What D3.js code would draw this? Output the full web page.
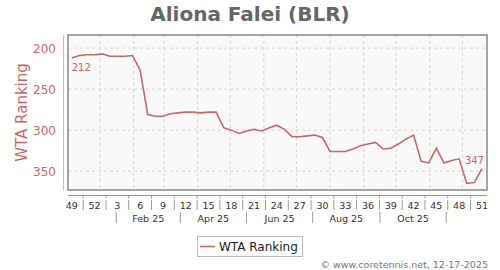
<!DOCTYPE html>
<html><head><meta charset="utf-8">
<script src="https://cdn.jsdelivr.net/npm/d3@7/dist/d3.min.js"></script>
<style>body{margin:0;background:#fff}svg{display:block}text{font-family:"DejaVu Sans",sans-serif}</style>
</head><body><svg id="c" width="500" height="270"></svg>
<script>
const title = "Aliona Falei (BLR)";
const seriesName = "WTA Ranking";
const weeks = [49,50,51,52,1,2,3,4,5,6,7,8,9,10,11,12,13,14,15,16,17,18,19,20,21,22,23,24,25,26,27,28,29,30,31,32,33,34,35,36,37,38,39,40,41,42,43,44,45,46,47,48,49,50,51];
const ranking = [212,209,208,208,207,210,210,210,209,227,281,283,283,280,279,278,278,279,278,278,297,300,304,301,299,301,297,294,299,308,308,307,306,309,326,326,326,323,319,317,315,323,322,317,311,306,338,340,322,340,337,335,365,364,347];
const yTicks = [200,250,300,350];
const monthLabels = ["Feb 25","Apr 25","Jun 25","Aug 25","Oct 25"];
const firstDate = new Date(2024,11,6);
const footer = "© www.coretennis.net, 12-17-2025";

const red = "#cc6666";
const svg = d3.select("#c");
const L=68, R=487, T=35, B=190;
const dates = ranking.map((d,i)=>d3.timeDay.offset(firstDate, 7*i));
const x = d3.scaleTime().domain([new Date(2024,11,2,12), new Date(2025,11,23,16)]).range([L,R]);
const y = d3.scaleLinear().domain([184,373]).range([T,B]);

svg.append("text").attr("x",250).attr("y",20.5).attr("text-anchor","middle")
  .attr("font-size",20).attr("font-weight","bold").attr("fill","#666").text(title);

svg.append("rect").attr("x",L).attr("y",T).attr("width",R-L).attr("height",B-T).attr("fill","#f9f9f9");

// grid
const months = d3.timeMonth.range(new Date(2025,0,1), new Date(2025,11,2));
svg.append("g").selectAll("line").data(months).join("line")
  .attr("x1",d=>x(d)).attr("x2",d=>x(d)).attr("y1",T).attr("y2",B)
  .attr("stroke","#d4d4d4").attr("stroke-dasharray","3,3");
svg.append("g").selectAll("line").data(yTicks).join("line")
  .attr("x1",L).attr("x2",R).attr("y1",d=>y(d)).attr("y2",d=>y(d))
  .attr("stroke","#d4d4d4").attr("stroke-dasharray","3,3");

svg.append("rect").attr("x",L).attr("y",T).attr("width",R-L).attr("height",B-T)
  .attr("fill","none").attr("stroke","#888").attr("stroke-width",1.5);

// y axis
svg.append("line").attr("x1",63.5).attr("x2",63.5).attr("y1",T).attr("y2",B).attr("stroke","#e0b4b4");
svg.append("g").selectAll("text").data(yTicks).join("text")
  .attr("x",56).attr("y",d=>y(d)+4.5).attr("text-anchor","end").attr("font-size",12).attr("fill",red).text(d=>d);
svg.append("text").attr("transform","translate(26.5,112.5) rotate(-90)").attr("text-anchor","middle")
  .attr("font-size",15).attr("fill",red).text(seriesName);

// x axis
svg.append("line").attr("x1",L).attr("x2",R).attr("y1",195.5).attr("y2",195.5).attr("stroke","#999");
const labelIdx = d3.range(0, ranking.length, 3);
svg.append("g").selectAll("text").data(labelIdx).join("text")
  .attr("x",i=>x(dates[i])).attr("y",208.5).attr("text-anchor","middle").attr("font-size",9.5).attr("fill","#333")
  .text(i=>weeks[i]);
const sepIdx = labelIdx.slice(0,-1).map(i=>i+1.5);
const sepX = i=>x(d3.timeHour.offset(firstDate, Math.round(i*7*24)));
svg.append("g").selectAll("line").data(sepIdx).join("line")
  .attr("x1",sepX).attr("x2",sepX).attr("y1",195.5).attr("y2",198.5).attr("stroke","#999");
svg.append("g").selectAll("line").data(sepIdx).join("line")
  .attr("x1",sepX).attr("x2",sepX).attr("y1",200).attr("y2",210).attr("stroke","#999");
const seps2 = [0,2,4,6,8,10].map(m=>new Date(2025,m,16));
svg.append("g").selectAll("line").data(seps2).join("line")
  .attr("x1",d=>x(d)).attr("x2",d=>x(d)).attr("y1",212).attr("y2",223).attr("stroke","#999");
svg.append("g").selectAll("text").data(monthLabels).join("text")
  .attr("x",(d,i)=>(x(seps2[i])+x(seps2[i+1]))/2).attr("y",221.5).attr("text-anchor","middle")
  .attr("font-size",9.5).attr("fill","#333").text(d=>d);

// line
const line = d3.line().x((d,i)=>x(dates[i])).y(d=>y(d));
svg.append("path").datum(ranking).attr("d",line).attr("fill","none").attr("stroke",red).attr("stroke-width",1.6);

const n = ranking.length-1;
svg.append("text").attr("x",x(dates[0])+9.5).attr("y",y(ranking[0])+13).attr("text-anchor","middle")
  .attr("font-size",10).attr("fill",red).text(ranking[0]);
svg.append("text").attr("x",x(dates[n])-7.5).attr("y",y(ranking[n])-5).attr("text-anchor","middle")
  .attr("font-size",10).attr("fill",red).text(ranking[n]);

// legend
svg.append("rect").attr("x",197.5).attr("y",236.5).attr("width",105).attr("height",20).attr("fill","#fff").attr("stroke","#bbb");
svg.append("line").attr("x1",200).attr("x2",215).attr("y1",246.5).attr("y2",246.5).attr("stroke",red).attr("stroke-width",1.6);
svg.append("text").attr("x",219).attr("y",251).attr("font-size",12).attr("fill","#222").text(seriesName);

svg.append("text").attr("x",488).attr("y",267.5).attr("text-anchor","end").attr("font-size",9.5).attr("fill","#777").text(footer);
</script></body></html>
